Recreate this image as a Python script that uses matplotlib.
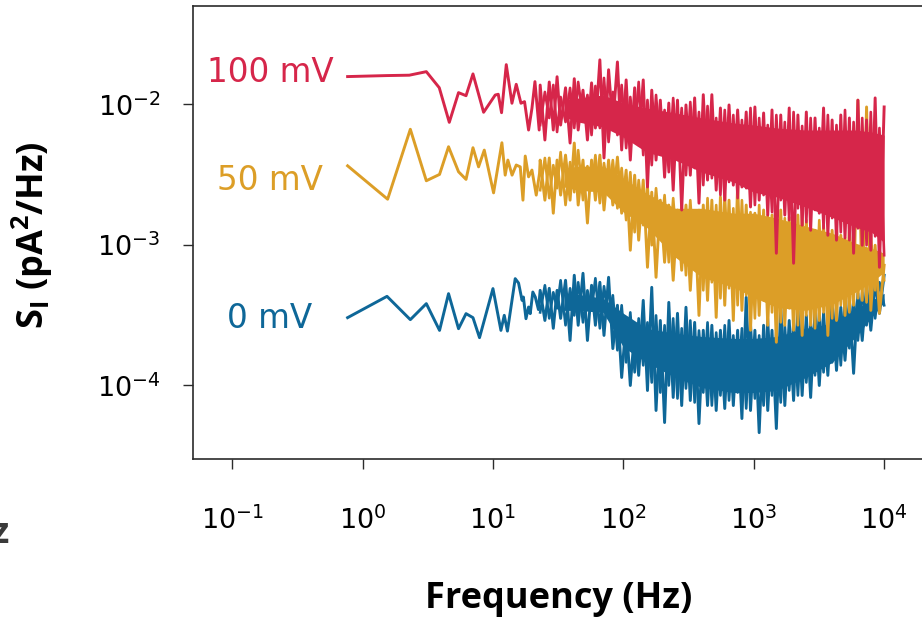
import numpy as np
import matplotlib
matplotlib.use('Agg')
import matplotlib.pyplot as plt
from matplotlib.ticker import NullLocator

# ---------------- data (frequency in Hz, S_I in pA^2/Hz) ----------------
red_low_f = [0.767, 1.53, 2.28, 3.08, 3.87, 4.62, 5.44, 6.21, 7.02, 8.47, 10.4, 10.97,
             11.63, 12.64, 13.97, 15.07, 16.38, 17.45, 18.74, 19.89, 20.97, 22.6]
red_low_v = [0.01574, 0.0160, 0.0161, 0.01706, 0.01312, 0.00744, 0.01210, 0.01151, 0.01644,
             0.00877, 0.01164, 0.01178, 0.00871, 0.01914, 0.01017, 0.01387, 0.01017, 0.01044,
             0.00656, 0.00936, 0.01449, 0.00656]

orange_low_f = [0.767, 1.555, 2.322, 3.08, 3.89, 4.56, 5.44, 6.21, 7.02, 7.75, 8.57, 10.1,
                11.7, 12.4, 13.0, 14.0, 15.07, 16.18, 16.97, 17.67, 18.74, 19.89, 21.46, 22.74]
orange_low_v = [0.00365, 0.002113, 0.00664, 0.002858, 0.003171, 0.004988, 0.003311, 0.002923,
                0.004909, 0.003589, 0.004721, 0.002344, 0.005325, 0.003134, 0.004010, 0.003134,
                0.003698, 0.003589, 0.002080, 0.004283, 0.003048, 0.003404, 0.002259, 0.003222]

blue_low_f = [0.767, 1.538, 2.322, 3.08, 3.89, 4.56, 5.44, 6.21, 7.02, 7.88, 9.99, 11.5,
              12.2, 12.9, 14.8, 15.7, 16.7, 17.1, 17.9, 18.74, 19.3, 20.2, 21.1, 22.3]
blue_low_v = [0.0003037, 0.0004305, 0.0002939, 0.000382, 0.0002465, 0.0004499, 0.0002535,
              0.0003243, 0.0003037, 0.0002188, 0.0004887, 0.0002465, 0.0003155, 0.0002437,
              0.0005754, 0.0005354, 0.0004033, 0.0004258, 0.0002985, 0.0003614, 0.0003243,
              0.000462, 0.0004258, 0.0003466]

dense_f = [23, 25, 27, 29, 31, 33, 36, 39, 42, 45, 49, 53, 57, 61, 66, 71, 77, 83, 90, 97,
           105, 113, 122, 131, 142, 153, 165, 178, 192, 207, 223, 241, 260, 280, 302, 326,
           352, 380, 410, 442, 477, 515, 555, 599, 646, 697, 752, 811, 875, 944, 1020, 1100,
           1190, 1280, 1380, 1490, 1610, 1730, 1870, 2020, 2180, 2350, 2530, 2730, 2950,
           3180, 3430, 3700, 3990, 4310, 4650, 5010, 5410, 5830, 6290, 6790, 7330, 7900,
           8530, 9200, 10000]

# two interleaved traces of the noisy spectrum above ~20 Hz (peaks / troughs)
red_dense = [0.0137, 0.00557, 0.0144, 0.00656, 0.0157, 0.00712, 0.0131, 0.0053, 0.0152, 0.00656,
             0.0126, 0.00557, 0.0142, 0.00678, 0.0207, 0.00415, 0.0176, 0.00712, 0.0200, 0.00473,
             0.0149, 0.00401, 0.0131, 0.00513, 0.0149, 0.00258, 0.0126, 0.00401, 0.0107, 0.00303,
             0.0102, 0.00245, 0.0107, 0.00177, 0.00989, 0.00313, 0.0111, 0.00198, 0.0117, 0.00289,
             0.0117, 0.00245, 0.00941, 0.00208, 0.00989, 0.00266, 0.00911, 0.00258, 0.00881, 0.00186,
             0.00957, 0.00208, 0.00867, 0.00163, 0.00911, 0.000872, 0.00839, 0.00163, 0.00941, 0.00074,
             0.00839, 0.00138, 0.00881, 0.00127, 0.00799, 0.00168, 0.00941, 0.00117, 0.00773, 0.00108,
             0.00839, 0.00112, 0.00799, 0.000872, 0.0107, 0.000994, 0.00773, 0.000916, 0.0111, 0.000693,
             0.00957]
red_dense2 = [0.00712, 0.01224, 0.00799, 0.01372, 0.00635, 0.01127, 0.00748, 0.01307, 0.00678, 0.01442,
              0.00799, 0.01165, 0.00604, 0.0135, 0.00678, 0.0154, 0.00539, 0.01224, 0.00604, 0.01372,
              0.00488, 0.01127, 0.00575, 0.01442, 0.00435, 0.01073, 0.00369, 0.01165, 0.00472, 0.00911,
              0.00329, 0.01108, 0.00401, 0.00941, 0.00313, 0.01038, 0.00352, 0.00881, 0.00266, 0.00972,
              0.00298, 0.00799, 0.00226, 0.00911, 0.0028, 0.00839, 0.00215, 0.00773, 0.00253, 0.00941,
              0.00192, 0.00799, 0.00226, 0.00712, 0.00171, 0.00839, 0.00208, 0.00748, 0.0015, 0.00881,
              0.00182, 0.00701, 0.00145, 0.00799, 0.00177, 0.00678, 0.00131, 0.00839, 0.00155, 0.00712,
              0.00123, 0.00911, 0.00108, 0.00748, 0.00131, 0.00799, 0.000994, 0.00881, 0.00115, 0.00678,
              0.000844]

orange_dense = [0.00401, 0.00208, 0.00415, 0.00168, 0.00401, 0.00226, 0.00435, 0.00208, 0.0053, 0.00192,
                0.00401, 0.00143, 0.00401, 0.00208, 0.00435, 0.00177, 0.00401, 0.00192, 0.00421, 0.00168,
                0.0034, 0.000916, 0.00313, 0.00108, 0.00289, 0.000693, 0.00237, 0.000588, 0.00208, 0.000752,
                0.00192, 0.00056, 0.00177, 0.00066, 0.00192, 0.000475, 0.00168, 0.000315, 0.00192, 0.000403,
                0.00208, 0.000305, 0.00219, 0.000372, 0.00208, 0.00029, 0.00266, 0.000342, 0.00192, 0.000247,
                0.00168, 0.000315, 0.00177, 0.000268, 0.00163, 0.000203, 0.00177, 0.000268, 0.00157, 0.000247,
                0.00163, 0.000227, 0.0015, 0.000268, 0.00127, 0.00029, 0.00138, 0.000227, 0.00127, 0.00029,
                0.00117, 0.000315, 0.00127, 0.000372, 0.0107, 0.000403, 0.00957, 0.000342, 0.000994, 0.000326,
                0.000716]
orange_dense2 = [0.00245, 0.00415, 0.00215, 0.00369, 0.00253, 0.00457, 0.00192, 0.00388, 0.00237, 0.00472,
                 0.00208, 0.00363, 0.00245, 0.00435, 0.00198, 0.00382, 0.00226, 0.00401, 0.00182, 0.00352,
                 0.0015, 0.00329, 0.00123, 0.00289, 0.00138, 0.00266, 0.000994, 0.00253, 0.00112, 0.00226,
                 0.000752, 0.00215, 0.000844, 0.00192, 0.000608, 0.00208, 0.000682, 0.00177, 0.000475, 0.00215,
                 0.000542, 0.00192, 0.000417, 0.00237, 0.000491, 0.00182, 0.000372, 0.00208, 0.000438, 0.00171,
                 0.0003, 0.00192, 0.000403, 0.00163, 0.000331, 0.00182, 0.000281, 0.00155, 0.000354, 0.00145,
                 0.000268, 0.00171, 0.000315, 0.00131, 0.000255, 0.0015, 0.000331, 0.00123, 0.0003, 0.00138,
                 0.000372, 0.00112, 0.000331, 0.00127, 0.000417, 0.00104, 0.00039, 0.00117, 0.000475, 0.000946,
                 0.00056]

blue_dense = [0.000475, 0.00029, 0.000491, 0.000255, 0.000475, 0.0003, 0.00056, 0.000209, 0.000608, 0.000268,
              0.000628, 0.000209, 0.000516, 0.000268, 0.000542, 0.000227, 0.000588, 0.000183, 0.000372, 0.000114,
              0.00029, 0.0001, 0.000247, 0.000118, 0.000403, 9.21e-5, 0.000499, 6.64e-5, 0.00029, 5.45e-5,
              0.00039, 8.22e-5, 0.000326, 7.2e-5, 0.00036, 7.82e-5, 0.000281, 5.36e-5, 0.000247, 7.2e-5,
              0.000268, 6.64e-5, 0.000247, 6.86e-5, 0.00029, 7.2e-5, 0.000247, 5.82e-5, 0.000424, 6.64e-5,
              0.000247, 4.62e-5, 0.000268, 6.64e-5, 0.000247, 4.94e-5, 0.000372, 7.2e-5, 0.00029, 7.82e-5,
              0.000354, 8.49e-5, 0.000315, 8.22e-5, 0.000342, 0.0001, 0.000326, 0.000118, 0.000403, 0.000128,
              0.00036, 0.000151, 0.000403, 0.000122, 0.000452, 0.000209, 0.000516, 0.000247, 0.000533, 0.000326,
              0.000608]
blue_dense2 = [0.000331, 0.000516, 0.0003, 0.00046, 0.000354, 0.00056, 0.000268, 0.000491, 0.000315, 0.000542,
               0.000281, 0.000475, 0.000342, 0.000579, 0.000255, 0.000508, 0.0003, 0.000438, 0.000178, 0.000372,
               0.000146, 0.000331, 0.000124, 0.0003, 0.000139, 0.000281, 0.000105, 0.000315, 8.91e-5, 0.000268,
               0.0001, 0.0003, 8.08e-5, 0.000255, 9.52e-5, 0.00029, 7.57e-5, 0.000246, 8.91e-5, 0.000281,
               7.2e-5, 0.000238, 8.49e-5, 0.000268, 7.82e-5, 0.000227, 8.91e-5, 0.000255, 6.86e-5, 0.000281,
               8.08e-5, 0.000227, 7.2e-5, 0.0003, 8.49e-5, 0.000246, 7.57e-5, 0.000268, 9.21e-5, 0.00029,
               8.49e-5, 0.000315, 0.000105, 0.000281, 0.000118, 0.000331, 0.000124, 0.0003, 0.000146, 0.000372,
               0.000139, 0.000403, 0.000184, 0.000417, 0.000209, 0.00046, 0.000268, 0.000491, 0.0003, 0.000542,
               0.000372]

# solid middle of each noisy band (lower / upper edge)
core_f = [35, 45, 70, 100, 150, 250, 400, 700, 1000, 1500, 2500, 4000, 6000, 8000, 10000]
red_core_hi = [0.01073, 0.01108, 0.01165, 0.01021, 0.00941, 0.00867, 0.00799, 0.00736, 0.00712,
               0.00678, 0.00656, 0.00656, 0.00656, 0.00635, 0.00604]
red_core_lo = [0.00812, 0.00748, 0.00689, 0.00585, 0.00457, 0.00401, 0.00329, 0.0028, 0.00237,
               0.00219, 0.00186, 0.00157, 0.00134, 0.00123, 0.00104]
orange_core_hi = [0.00352, 0.00363, 0.00363, 0.00298, 0.00233, 0.00182, 0.00182, 0.00168, 0.00168,
                  0.00155, 0.00136, 0.00121, 0.00103, 0.000946, 0.000872]
orange_core_lo = [0.00258, 0.00245, 0.00237, 0.00171, 0.00134, 0.000817, 0.000588, 0.000499, 0.000424,
                  0.000359, 0.000342, 0.000378, 0.00046, 0.000542, 0.000639]
blue_core_hi = [0.000445, 0.000445, 0.000417, 0.000326, 0.000255, 0.000235, 0.000223, 0.000216,
                0.000216, 0.000223, 0.000255, 0.000277, 0.000354, 0.000403, 0.000452]
blue_core_lo = [0.000342, 0.000342, 0.000331, 0.000187, 0.000146, 0.000114, 9.68e-5, 8.91e-5, 8.91e-5,
                9.21e-5, 0.000114, 0.000146, 0.00022, 0.000305, 0.00039]

series_labels = ["0 mV", "50 mV", "100 mV"]
x_ticks = [0.1, 1, 10, 100, 1000, 10000]
x_tick_labels = [r'$\mathregular{10^{-1}}$', r'$\mathregular{10^{0}}$', r'$\mathregular{10^{1}}$',
                 r'$\mathregular{10^{2}}$', r'$\mathregular{10^{3}}$', r'$\mathregular{10^{4}}$']
y_ticks = [1e-4, 1e-3, 1e-2]
y_tick_labels = [r'$\mathregular{10^{-4}}$', r'$\mathregular{10^{-3}}$', r'$\mathregular{10^{-2}}$']

# ---------------- style ----------------
RED = '#D6264A'
ORANGE = '#DC9E27'
BLUE = '#0E6798'
DARK = '#2b2b2b'

W, H = 922, 620
fig = plt.figure(figsize=(W / 100, H / 100), dpi=100)
ax = fig.add_axes([193 / W, 1 - 459 / H, (923.4 - 193) / W, (459 - 6) / H])
ax.set_xscale('log')
ax.set_yscale('log')
ax.set_xlim(0.05, 2e4)
ax.set_ylim(3e-5, 0.05)

series = [
    (blue_low_f, blue_low_v, blue_dense, blue_dense2, blue_core_lo, blue_core_hi, BLUE),
    (orange_low_f, orange_low_v, orange_dense, orange_dense2, orange_core_lo, orange_core_hi, ORANGE),
    (red_low_f, red_low_v, red_dense, red_dense2, red_core_lo, red_core_hi, RED),
]
for lf, lv, dv, dv2, clo, chi, col in series:
    ax.fill_between(core_f, clo, chi, color=col, lw=0, zorder=2)
    ax.plot(dense_f, dv2, color=col, lw=1.9, zorder=2)
    ax.plot(list(lf) + list(dense_f), list(lv) + list(dv), color=col, lw=2.1, zorder=2)

# curve labels
label_cfg = [("0 mV", BLUE, 0.289), ("50 mV", ORANGE, 0.594), ("100 mV", RED, 0.832)]
for txt, col, yy in label_cfg:
    ax.text((270 - 193) / (923.4 - 193), yy, txt, transform=ax.transAxes, ha='center',
            va='baseline', color=col, fontsize=23.5, family='DejaVu Sans')

# ticks
ax.set_xticks(x_ticks)
ax.set_xticklabels(x_tick_labels)
ax.set_yticks(y_ticks)
ax.set_yticklabels(y_tick_labels)
ax.xaxis.set_minor_locator(NullLocator())
ax.yaxis.set_minor_locator(NullLocator())
ax.tick_params(axis='both', direction='out', length=7.5, width=1.0, color=DARK,
               labelsize=19.5, labelcolor='black')
ax.tick_params(axis='x', pad=27)
ax.tick_params(axis='y', pad=16)
for lab in ax.get_xticklabels() + ax.get_yticklabels():
    lab.set_family('DejaVu Sans')

for s in ['left', 'bottom', 'top']:
    ax.spines[s].set_color(DARK)
    ax.spines[s].set_linewidth(1.2)
ax.spines['right'].set_visible(False)

# axis titles
fig.text(559 / W, 1 - 608 / H, 'Frequency (Hz)', ha='center', va='baseline',
         fontsize=26, fontweight='bold', family='Open Sans', color='black')
fig.text(32 / W, 1 - 235 / H, r'$\mathregular{S_I}$ (pA$\mathregular{^2}$/Hz)', rotation=90,
         ha='center', va='center', fontsize=26, fontweight='bold', family='Open Sans',
         color='black')
# clipped label of the neighbouring panel (cut by the left edge, as in the reference)
fig.text(10 / W, 1 - 543 / H, 'Hz', ha='right', va='baseline', fontsize=26,
         fontweight='bold', family='Open Sans', color='#3a3a3a')

fig.savefig('out.png', dpi=100)
